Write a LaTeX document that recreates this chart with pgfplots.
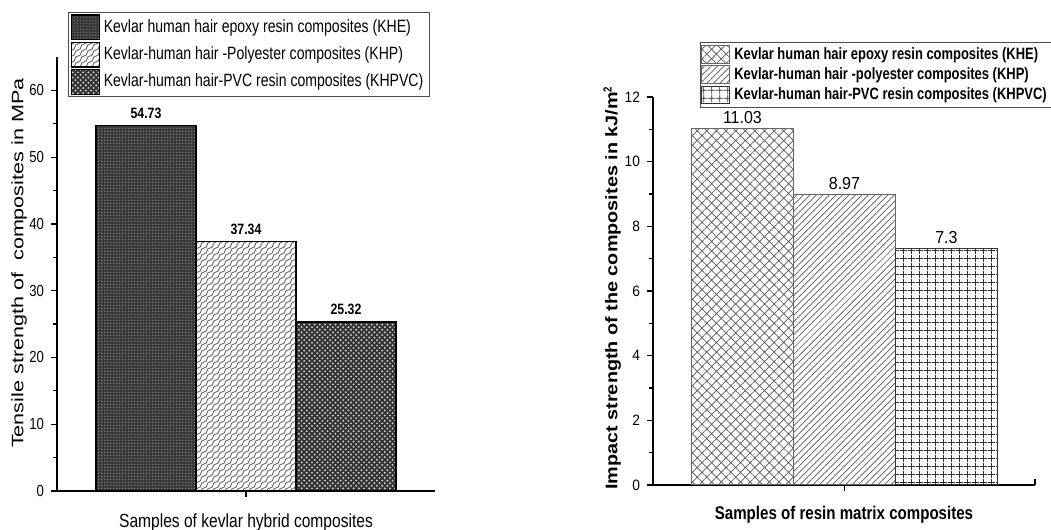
\documentclass[border=0pt]{standalone}
\usepackage{pgfplots}
\pgfplotsset{compat=1.18}
\usepackage{fontspec}
\setmainfont[FakeStretch=0.82]{Liberation Sans}
\newfontfamily\ylabfontA[FakeStretch=1.3]{Liberation Sans}
\newfontfamily\ylabfontB[FakeStretch=1.18]{Liberation Sans}
\newfontfamily\numfont[FakeStretch=0.92]{Liberation Sans}
\newfontfamily\legfontA[FakeStretch=0.79]{Liberation Sans}
\newfontfamily\legfontB[FakeStretch=0.79]{Liberation Sans}
\usetikzlibrary{patterns,patterns.meta}

\pgfdeclarepatternformonly{finedots}{\pgfqpoint{-0.5pt}{-0.5pt}}{\pgfqpoint{1pt}{1pt}}{\pgfqpoint{1.5pt}{1.5pt}}{%
  \pgfpathcircle{\pgfqpoint{0pt}{0pt}}{0.35pt}\pgfusepath{fill}}
\pgfdeclarepatternformonly{bigdots}{\pgfqpoint{-0.6pt}{-0.6pt}}{\pgfqpoint{2pt}{2pt}}{\pgfqpoint{2.6pt}{2.6pt}}{%
  \pgfpathcircle{\pgfqpoint{0pt}{0pt}}{0.55pt}\pgfpathcircle{\pgfqpoint{1.3pt}{1.3pt}}{0.55pt}\pgfusepath{fill}}
\pgfdeclarepatternformonly{waves}{\pgfqpoint{-0.3pt}{-0.3pt}}{\pgfqpoint{3.3pt}{3.3pt}}{\pgfqpoint{3pt}{3pt}}{%
  \pgfsetlinewidth{0.45pt}\pgfpathmoveto{\pgfqpoint{0pt}{0pt}}\pgfpathcurveto{\pgfqpoint{2.2pt}{0pt}}{\pgfqpoint{0.8pt}{3pt}}{\pgfqpoint{3pt}{3pt}}\pgfusepath{stroke}}

\pgfplotsset{
  common/.style={
    scale only axis,
    axis x line*=bottom, axis y line*=left,
    xtick={0}, xticklabels={},
    tick align=outside,
    major tick length=3pt, minor tick length=1.8pt,
    axis line style={line width=0.7pt},
    every tick/.style={line width=0.6pt, black},
    minor y tick num=1,
    /pgf/number format/assume math mode=true,
    ybar, bar width=1, bar shift=0pt,
    nodes near coords,
    legend cell align=left,
  },
}

\begin{document}
\begin{tikzpicture}
\useasboundingbox (0,0) rectangle (525.5pt,265pt);
% ---------- left chart ----------
\begin{scope}
\begin{axis}[common,
  at={(28.5pt,19.5pt)}, anchor=south west,
  width=189pt, height=217pt,
  xmin=-1.89, xmax=1.89, ymin=0, ymax=65,
  ytick={0,10,...,60},
  yticklabel style={font=\fontsize{8}{8}\selectfont},
  every node near coord/.append style={font=\bfseries\fontsize{7.5}{8}\selectfont, black},
  ylabel={Tensile strength of \ composites in MPa},
  every axis y label/.style={at={(axis description cs:-0.1,0.525)}, rotate=90, anchor=center, font=\ylabfontA\fontsize{8.3}{9}\selectfont},
  xlabel={Samples of kevlar hybrid composites},
  every axis x label/.style={at={(axis description cs:0.5,-0.072)}, anchor=center, font=\fontsize{9.5}{10}\selectfont},
  legend style={at={(rel axis cs:0.029,1.104)}, anchor=north west,
    draw=black!70, line width=0.6pt, font=\legfontA\fontsize{8.9}{10}\selectfont,
    inner sep=1pt, row sep=0.6pt},
  legend image code/.code={\draw[#1,/tikz/.cd] (0pt,-6.2pt) rectangle (14pt,6.2pt);},
]
\addplot[draw=black, line width=0.6pt, fill=black!78, postaction={pattern=finedots, pattern color=black!40}] coordinates {(-1,54.73)};
\addplot[draw=black, line width=0.6pt, fill=white, postaction={pattern=waves, pattern color=black!60}] coordinates {(0,37.34)};
\addplot[draw=black, line width=0.6pt, fill=black!80, postaction={pattern=bigdots, pattern color=black!20}] coordinates {(1,25.32)};
\legend{Kevlar human hair epoxy resin composites (KHE),
        Kevlar-human hair -Polyester composites (KHP),
        Kevlar-human hair-PVC resin composites (KHPVC)}
\end{axis}
\end{scope}
% ---------- right chart ----------
\begin{scope}
\begin{axis}[common,
  at={(326.5pt,22.5pt)}, anchor=south west,
  width=191pt, height=194pt,
  xmin=-1.877, xmax=1.868, ymin=0, ymax=12,
  ytick={0,2,...,12},
  extra x ticks={1.868}, extra x tick labels={},
  extra x tick style={tick align=inside},
  yticklabel style={font=\numfont\fontsize{7.5}{8}\selectfont},
  every node near coord/.append style={font=\numfont\fontsize{8.7}{9}\selectfont, black, yshift=-1pt},
  ylabel={Impact strength of the composites in kJ/m$^{\mathbf{2}}$},
  every axis y label/.style={at={(axis description cs:-0.107,0.51)}, rotate=90, anchor=center, font=\ylabfontB\bfseries\fontsize{8.4}{9}\selectfont},
  xlabel={Samples of resin matrix composites},
  every axis x label/.style={at={(axis description cs:0.5,-0.077)}, anchor=center, font=\bfseries\fontsize{9.2}{10}\selectfont},
  legend style={at={(rel axis cs:0.123,1.142)}, anchor=north west,
    draw=black!70, line width=0.5pt, font=\legfontB\bfseries\fontsize{8.2}{9}\selectfont,
    inner sep=0.4pt, row sep=-1.4pt},
  legend image code/.code={\draw[#1,/tikz/.cd] (0pt,-4.4pt) rectangle (14pt,4.4pt);},
]
\addplot[draw=black!60, line width=0.5pt, fill=white, postaction={pattern={Hatch[angle=45,distance=3.4pt,line width=0.35pt]}, pattern color=black!65}] coordinates {(-1,11.03)};
\addplot[draw=black!60, line width=0.5pt, fill=white, postaction={pattern={Lines[angle=45,distance=2.3pt,line width=0.35pt]}, pattern color=black!65}] coordinates {(0,8.97)};
\addplot[draw=black!80, line width=0.5pt, fill=white, postaction={pattern={Hatch[angle=0,distance=4pt,line width=0.45pt]}, pattern color=black!80}] coordinates {(1,7.3)};
\legend{Kevlar human hair epoxy resin composites (KHE),
        Kevlar-human hair -polyester composites (KHP),
        Kevlar-human hair-PVC resin composites (KHPVC)}
\end{axis}
\end{scope}
\end{tikzpicture}
\end{document}
